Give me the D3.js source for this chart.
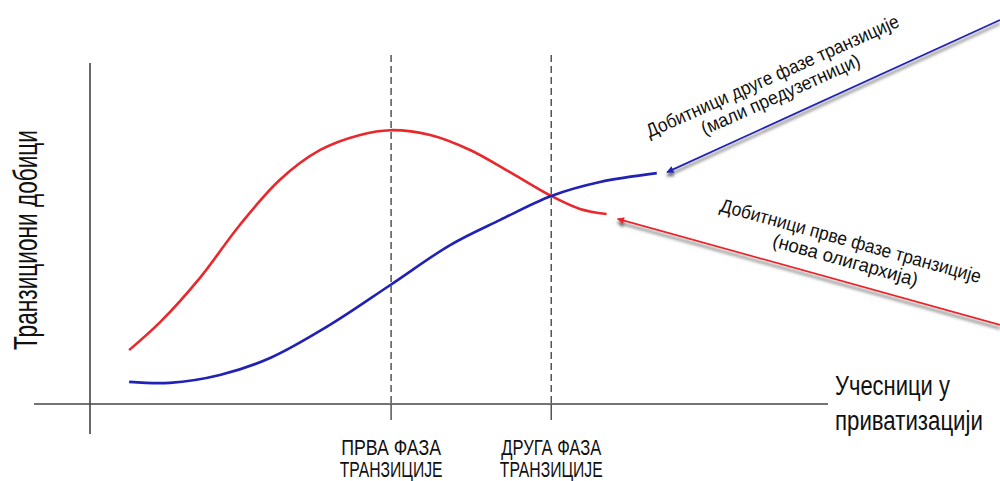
<!DOCTYPE html>
<html><head><meta charset="utf-8">
<script src="https://cdn.jsdelivr.net/npm/d3@7"></script>
<style>html,body{margin:0;padding:0;background:#fff;}svg{display:block;}</style>
</head><body>
<svg id="chart" width="1000" height="481"></svg>
<script>
// ---- data ----
const redX = [0.53, 0.95, 1.49, 2.03, 2.57, 3.12, 3.66, 4.07, 4.61, 5.15, 5.69, 6.25, 6.64, 7.00];
const redY = [1.58, 2.40, 3.70, 5.25, 6.57, 7.45, 7.89, 8.03, 7.89, 7.45, 6.80, 6.10, 5.72, 5.57];
const blueX = [0.53, 1.08, 1.76, 2.44, 3.25, 4.07, 4.88, 5.56, 6.25, 6.91, 7.68];
const blueY = [0.65, 0.62, 0.85, 1.35, 2.32, 3.49, 4.66, 5.40, 6.10, 6.51, 6.77];
const phaseX = [4.08, 6.25];
const phaseLabels = [["ПРВА ФАЗА", "ТРАНЗИЦИЈЕ"], ["ДРУГА ФАЗА", "ТРАНЗИЦИЈЕ"]];
const yAxisLabel = "Транзициони добици";
const xAxisLabel = ["Учесници у", "приватизацији"];
const blueNote = ["Добитници друге фазе транзиције", "(мали предузетници)"];
const redNote = ["Добитници прве фазе транзиције", "(нова олигархија)"];
// arrows: [fromX, fromY, toX, toY] in data units
const blueArrow = [12.33, 11.26, 7.82, 6.80];
const redArrow = [12.33, 2.32, 7.15, 5.43];

const svg = d3.select("#chart");
const x = d3.scaleLinear().domain([0, 10]).range([90, 828]);
const y = d3.scaleLinear().domain([0, 10]).range([404, 63]);
const FONT = "'Liberation Sans', Arial, sans-serif";
const RED = "#e8282c", BLUE = "#2121b5";

const defs = svg.append("defs");
const f = defs.append("filter").attr("id", "shadow").attr("x", "-20%").attr("y", "-50%").attr("width", "140%").attr("height", "200%");
f.append("feDropShadow").attr("dx", 0).attr("dy", 3.5).attr("stdDeviation", 1.4)
  .attr("flood-color", "#444").attr("flood-opacity", 0.85);
function marker(id, color) {
  defs.append("marker").attr("id", id).attr("viewBox", "0 -5 10 10")
    .attr("refX", 9).attr("refY", 0).attr("markerWidth", 9).attr("markerHeight", 7)
    .attr("markerUnits", "userSpaceOnUse").attr("orient", "auto")
    .append("path").attr("d", "M0,-5L10,0L0,5Z").attr("fill", color);
}
marker("mBlue", BLUE); marker("mRed", RED);

// condensed text helper: places text at (tx,ty) with rotation, scaled horizontally to a target width
function ctext(str, tx, ty, angle, size, width, anchor) {
  const g = svg.append("g").attr("transform", `translate(${tx},${ty}) rotate(${angle})`);
  const t = g.append("text").attr("font-family", FONT).attr("font-size", size).attr("fill", "#111")
    .attr("text-anchor", anchor).text(str);
  const w = t.node().getComputedTextLength();
  t.attr("transform", `scale(${width / w},1)`);
  return g;
}

// axes
svg.append("line").attr("x1", 34).attr("x2", x(10)).attr("y1", y(0)).attr("y2", y(0))
  .attr("stroke", "#444").attr("stroke-width", 1.6);
svg.append("line").attr("x1", x(0)).attr("x2", x(0)).attr("y1", y(10)).attr("y2", 434)
  .attr("stroke", "#444").attr("stroke-width", 1.6);

// phase lines
phaseX.forEach((p, i) => {
  svg.append("line").attr("x1", x(p)).attr("x2", x(p)).attr("y1", 55).attr("y2", y(0))
    .attr("stroke", "#555").attr("stroke-width", 1.5).attr("stroke-dasharray", "7,4");
  svg.append("line").attr("x1", x(p)).attr("x2", x(p)).attr("y1", y(0)).attr("y2", 420)
    .attr("stroke", "#555").attr("stroke-width", 1.5);
  ctext(phaseLabels[i][0], x(p), 455, 0, 22, 100, "middle");
  ctext(phaseLabels[i][1], x(p), 477, 0, 22, 103, "middle");
});

// curves
const line = d3.line().x(d => x(d[0])).y(d => y(d[1])).curve(d3.curveCatmullRom.alpha(0.5));
svg.append("path").datum(redX.map((v, i) => [v, redY[i]])).attr("d", line)
  .attr("fill", "none").attr("stroke", RED).attr("stroke-width", 2.6);
svg.append("path").datum(blueX.map((v, i) => [v, blueY[i]])).attr("d", line)
  .attr("fill", "none").attr("stroke", BLUE).attr("stroke-width", 2.6);

// arrows
function arrow(a, color, m) {
  svg.append("line").attr("x1", x(a[0])).attr("y1", y(a[1])).attr("x2", x(a[2])).attr("y2", y(a[3]))
    .attr("stroke", color).attr("stroke-width", 1.7).attr("marker-end", `url(#${m})`)
    .attr("filter", "url(#shadow)");
}
arrow(blueArrow, BLUE, "mBlue");
arrow(redArrow, RED, "mRed");

// y axis label
ctext(yAxisLabel, 37, 240, -90, 33, 220, "middle");

// x axis label
ctext(xAxisLabel[0], 835, 395, 0, 27, 115, "start");
ctext(xAxisLabel[1], 835, 430, 0, 27, 148, "start");

// notes
function note(lines, cx, cy, angle, lens) {
  const rad = angle * Math.PI / 180;
  lines.forEach((s, i) => {
    const dx = -Math.sin(rad) * i * 20, dy = Math.cos(rad) * i * 20;
    ctext(s, cx + dx, cy + dy, angle, 19, lens[i], "middle");
  });
}
note(blueNote, 775, 82, -24, [275, 172]);
note(redNote, 849, 247, 15.5, [270, 150]);
</script>
</body></html>
